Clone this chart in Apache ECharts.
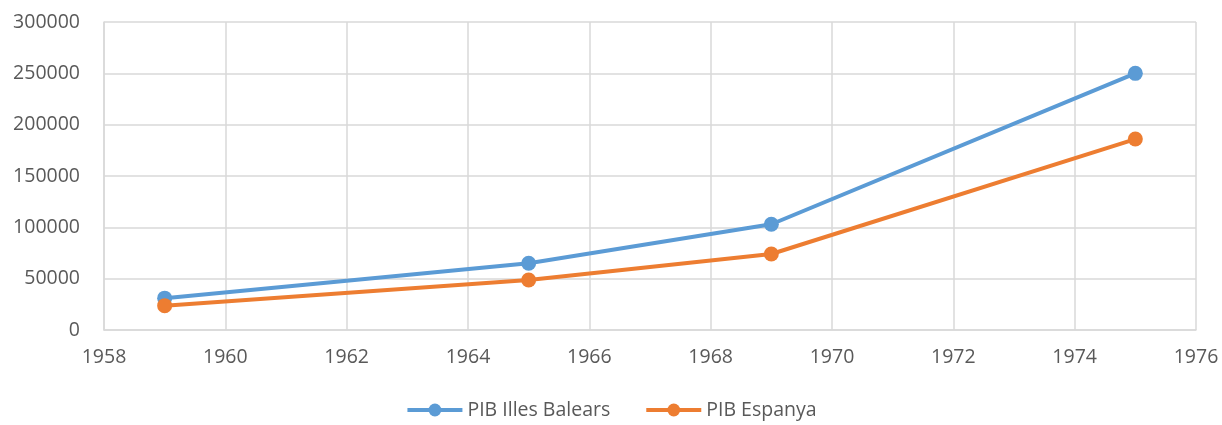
<!DOCTYPE html>
<html>
<head>
<meta charset="utf-8">
<script src="https://cdn.jsdelivr.net/npm/echarts@6/dist/echarts.min.js"></script>
<style>
  html, body { margin: 0; padding: 0; background: #fff; }
  #chart { width: 1222px; height: 425px; }
</style>
</head>
<body>
<div id="chart"></div>
<script>
// anys i valors llegits del gràfic
const years = [1959, 1965, 1969, 1975];
const pibBalears = [31000, 65000, 103000, 250000];
const pibEspanya = [23700, 48700, 74000, 186000];
const seriesNames = ['PIB Illes Balears', 'PIB Espanya'];

const chart = echarts.init(document.getElementById('chart'));
const gridColor = '#D9D9D9';
const textColor = '#595959';
const font = 'Open Sans';

function pairs(xs, ys) {
  return xs.map((x, i) => [x, ys[i]]);
}

const option = {
  animation: false,
  textStyle: { fontFamily: font },
  grid: { left: 104, right: 26, top: 22, bottom: 95, containLabel: false },
  xAxis: {
    type: 'value', min: 1958, max: 1976, interval: 2,
    axisLine: { show: true, lineStyle: { color: gridColor, width: 1.5 } },
    axisTick: { show: false },
    splitLine: { show: true, lineStyle: { color: gridColor, width: 1.5 } },
    axisLabel: { color: textColor, fontSize: 19.5, margin: 17, fontFamily: font,
      formatter: v => String(v) }
  },
  yAxis: {
    type: 'value', min: 0, max: 300000, interval: 50000,
    axisLine: { show: true, lineStyle: { color: gridColor, width: 1.5 } },
    axisTick: { show: false },
    splitLine: { show: true, lineStyle: { color: gridColor, width: 1.5 } },
    axisLabel: { color: textColor, fontSize: 19.5, margin: 24, fontFamily: font,
      formatter: v => String(v) }
  },
  legend: {
    bottom: 0, left: 'center', itemWidth: 55, itemHeight: 16, itemGap: 34,
    lineStyle: { width: 4 },
    textStyle: { color: textColor, fontSize: 19.5, fontFamily: font },
    data: seriesNames
  },
  series: [
    {
      name: seriesNames[0], type: 'line', data: pairs(years, pibBalears),
      symbol: 'circle', symbolSize: 15,
      lineStyle: { color: '#5B9BD5', width: 4 },
      itemStyle: { color: '#5B9BD5' }
    },
    {
      name: seriesNames[1], type: 'line', data: pairs(years, pibEspanya),
      symbol: 'circle', symbolSize: 15,
      lineStyle: { color: '#ED7D31', width: 4 },
      itemStyle: { color: '#ED7D31' }
    }
  ]
};
chart.setOption(option);
</script>
</body>
</html>
